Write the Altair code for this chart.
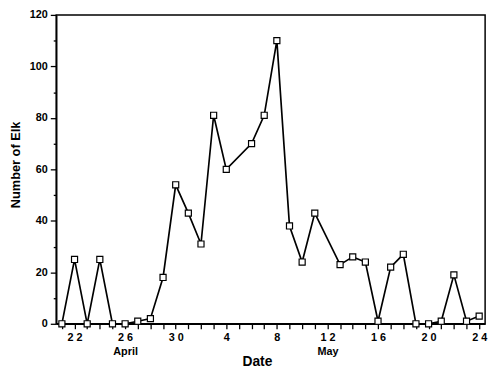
import altair as alt
import pandas as pd

# Day index: April d -> d, May d -> 30 + d
days = [21, 22, 23, 24, 25, 26, 27, 28, 29, 30,
        31, 32, 33, 34, 36, 37, 38, 39, 40, 41,
        43, 44, 45, 46, 47, 48, 49, 50, 51, 52, 53, 54]
elk = [0, 25, 0, 25, 0, 0, 1, 2, 18, 54,
       43, 31, 81, 60, 70, 81, 110, 38, 24, 43,
       23, 26, 24, 1, 22, 27, 0, 0, 1, 19, 1, 3]

tick_days = [22, 26, 30, 34, 38, 42, 46, 50, 54]
tick_labels = ["22", "26", "30", "4", "8", "12", "16", "20", "24"]
month_days = [26, 42]
month_names = ["April", "May"]

df = pd.DataFrame({"day": days, "elk": elk})

# build label expression
expr = "''"
for d, lab in reversed(list(zip(tick_days, tick_labels))):
    spaced = " ".join(lab)
    if d in month_days:
        m = month_names[month_days.index(d)]
        val = f"['{spaced}', '{m}']"
    else:
        val = f"'{spaced}'"
    expr = f"datum.value == {d} ? {val} : ({expr})"

FONT = "Liberation Sans"

x = alt.X(
    "day:Q",
    scale=alt.Scale(domain=[20.55, 54.47], nice=False, zero=False),
    axis=alt.Axis(
        values=list(range(21, 55)),
        labelExpr=expr,
        labelFont=FONT, labelFontSize=11, labelFontWeight="bold",
        labelColor="black", labelLineHeight=14, labelPadding=3,
        labelFlush=False, labelOverlap=False,
        tickSize=5, tickColor="black", tickWidth=1.3,
        domainColor="black", domainWidth=1.6, grid=False,
        title="Date", titleFont=FONT, titleFontSize=14,
        titleFontWeight="bold", titleColor="black",
        titleX=204, titleY=38, titleBaseline="middle", titleAlign="center",
    ),
)
y = alt.Y(
    "elk:Q",
    scale=alt.Scale(domain=[0, 120], nice=False),
    axis=alt.Axis(
        values=list(range(0, 121, 10)),
        labelExpr="datum.value % 20 == 0 ? datum.label : ''",
        labelFont=FONT, labelFontSize=11, labelFontWeight="bold",
        labelColor="black", labelPadding=3, labelFlush=False,
        tickSize={"condition": {"test": "datum.value % 20 == 0", "value": 6}, "value": 3},
        tickColor="black", tickWidth=1.3,
        domainColor="black", domainWidth=1.6, grid=False,
        title="Number of Elk", titleFont=FONT, titleFontSize=13,
        titleFontWeight="bold", titleColor="black",
        titleX=-41, titleY=152, titleAngle=270,
        titleBaseline="middle", titleAlign="center",
    ),
)

line = alt.Chart(df).mark_line(color="black", strokeWidth=1.7).encode(x=x, y=y)
pts = alt.Chart(df).mark_point(
    shape="square", size=38, filled=True, fill="white",
    stroke="black", strokeWidth=1.2, opacity=1
).encode(x=x, y=y)

chart = (line + pts).properties(
    width=436, height=314,
    autosize=alt.AutoSizeParams(type="none"),
    padding={"left": 49, "top": 4, "right": 7, "bottom": 47},
).configure_view(stroke="black", strokeWidth=1.5, fill="white")

chart.save("out.html", embed_options={"renderer": "svg", "actions": False})
